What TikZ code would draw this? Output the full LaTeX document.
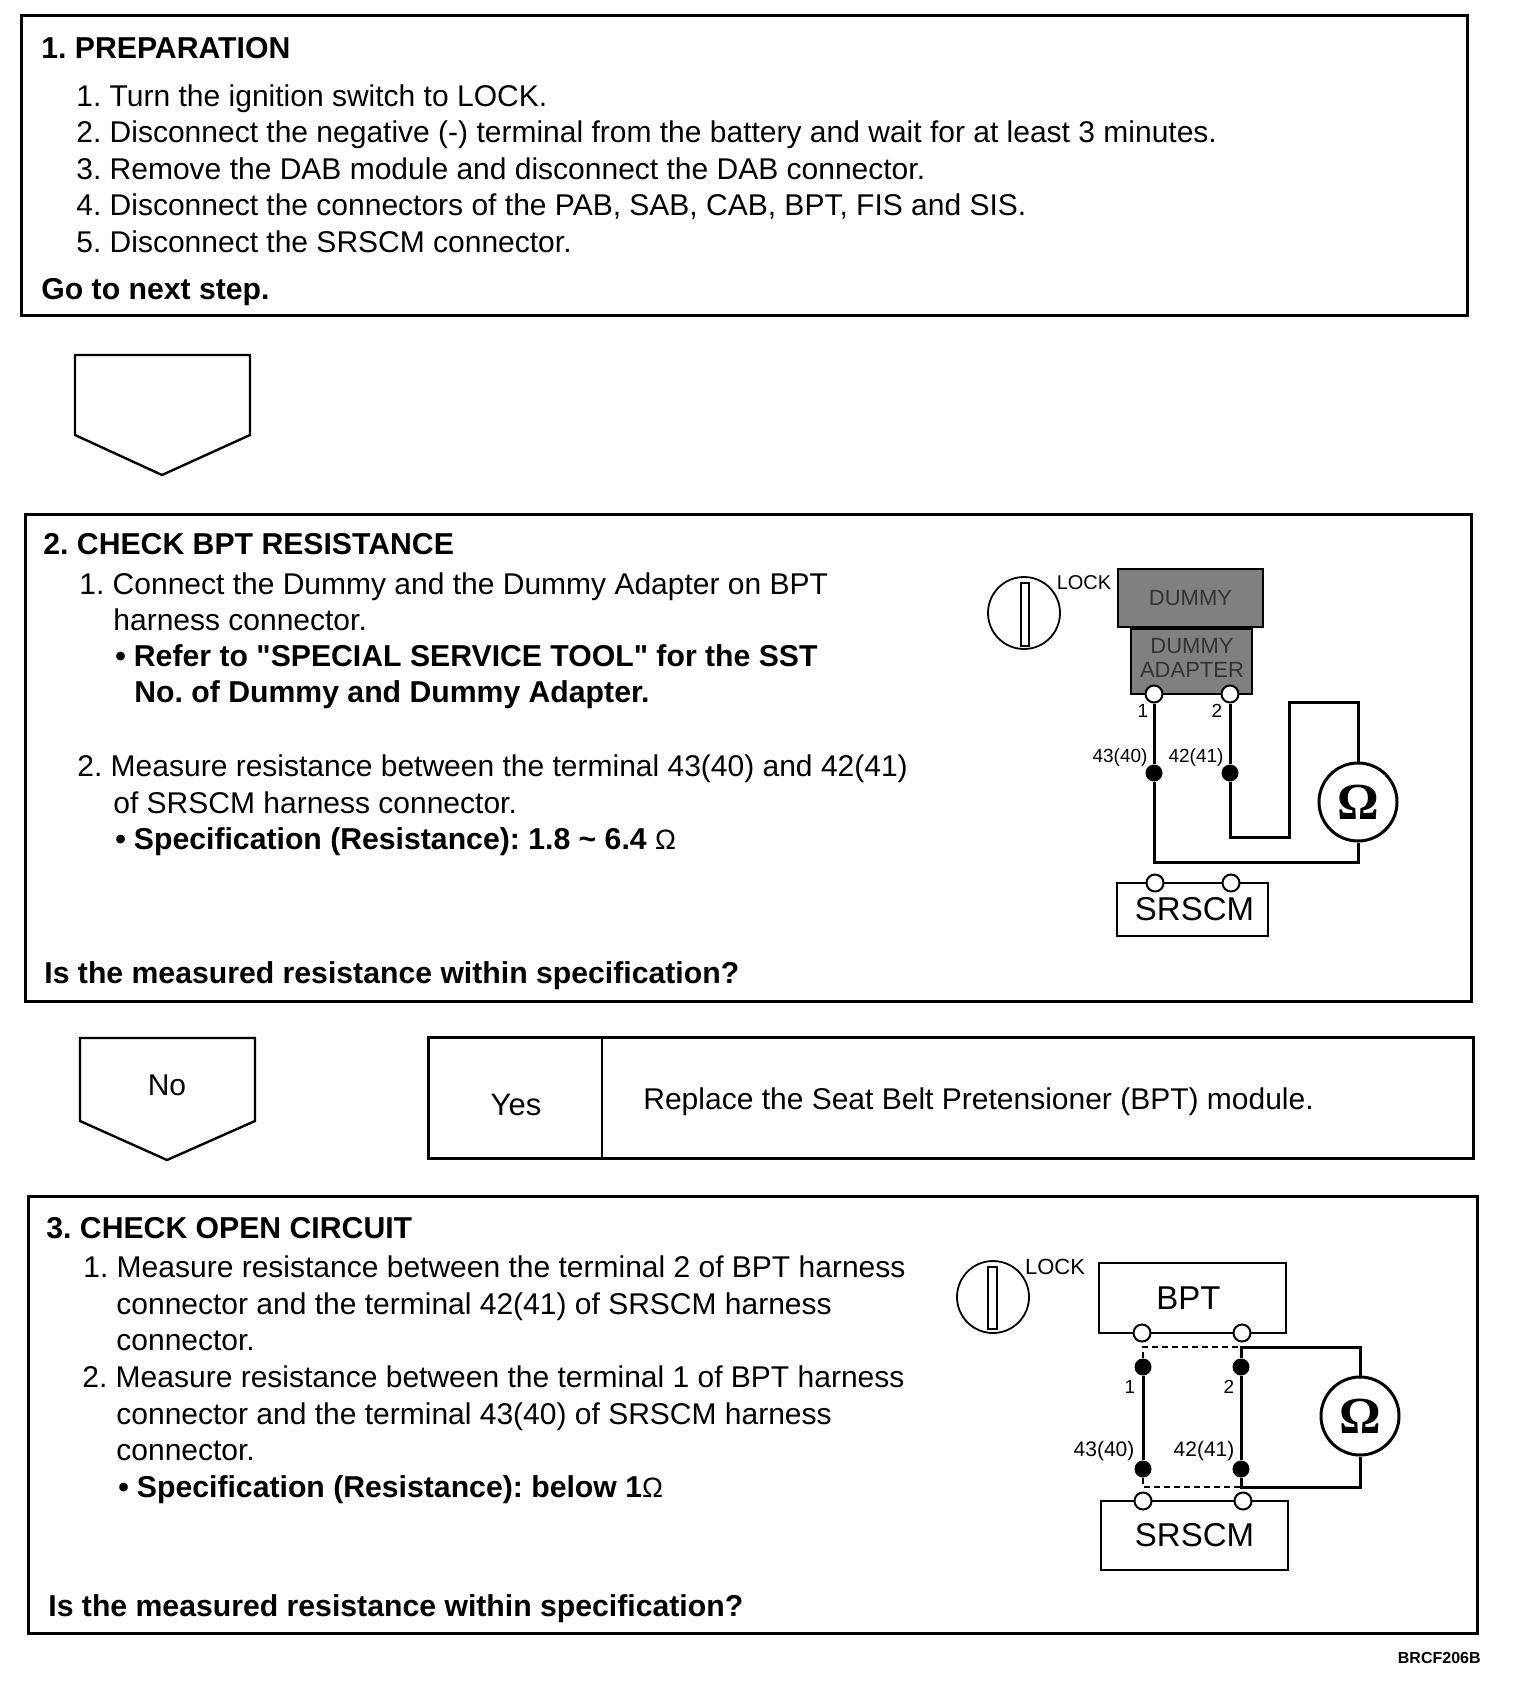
\documentclass[tikz,border=0pt]{standalone}
\usepackage{fontspec}
\setmainfont{Liberation Sans}[Ligatures=TeXOff]
\newfontfamily\meterfont{Liberation Serif}
\tikzset{
 txt/.style={anchor=base west,inner sep=0pt,yshift=-0.5pt,font=\fontsize{15}{15}\selectfont\frenchspacing},
 head/.style={txt,font=\fontsize{15.1}{15.1}\selectfont\frenchspacing\bfseries},
 panel/.style={draw,line width=1.5pt},
 term/.style={draw,circle,fill=white,inner sep=0pt,minimum size=8.5pt,line width=1pt},
 dotblk/.style={circle,fill=black,inner sep=0pt,minimum size=8.5pt},
 meter/.style={draw,circle,inner sep=0pt,minimum size=39pt,line width=1.5pt,font=\fontsize{26}{26}\selectfont\meterfont\bfseries},
 wire/.style={line width=1.5pt},
 tag/.style={inner sep=0pt,font=\fontsize{9.5}{9.5}\selectfont},
 unit/.style={draw,line width=1pt,inner sep=0pt,font=\fontsize{16.5}{16.5}\selectfont},
 graybox/.style={draw,line width=1.2pt,fill=black!50,inner sep=0pt,text=black!80,font=\fontsize{11}{12}\selectfont}
}
\begin{document}
\begin{tikzpicture}[x=0.5pt,y=-0.5pt]
 \useasboundingbox (0,0) rectangle (1520,1686);
 \node[panel,inner sep=0pt,minimum width=723pt,minimum height=149.5pt] (prep) at (744,165.5) {};
 \node[head] (prep0) at (41,58) {1. PREPARATION};
 \node[txt] (prep1) at (76,105) {1. Turn the ignition switch to LOCK.};
 \node[txt] (prep2) at (76,141) {2. Disconnect the negative (-) terminal from the battery and wait for at least 3 minutes.};
 \node[txt] (prep3) at (76,178) {3. Remove the DAB module and disconnect the DAB connector.};
 \node[txt] (prep4) at (76,214) {4. Disconnect the connectors of the PAB, SAB, CAB, BPT, FIS and SIS.};
 \node[txt] (prep5) at (76,251) {5. Disconnect the SRSCM connector.};
 \node[head] (prep6) at (41,298) {Go to next step.};
 \draw[line width=1.2pt] (75,355) -- (250,355) -- (250,435) -- (162,475) -- (75,435) -- cycle;

 \node[panel,inner sep=0pt,minimum width=723pt,minimum height=243.5pt] (bpt) at (748,757.5) {};
 \node[head] (bpt0) at (43,553) {2. CHECK BPT RESISTANCE};
 \node[txt] (bpt1) at (79,593) {1. Connect the Dummy and the Dummy Adapter on BPT};
 \node[txt] (bpt2) at (113,629) {harness connector.};
 \node[head] (bpt3) at (115,665) {\textbullet\hspace{4pt}Refer to "SPECIAL SERVICE TOOL" for the SST};
 \node[head] (bpt4) at (134,701) {No. of Dummy and Dummy Adapter.};
 \node[txt] (bpt5) at (77,775) {2. Measure resistance between the terminal 43(40) and 42(41)};
 \node[txt] (bpt6) at (113,812) {of SRSCM harness connector.};
 \node[head] (bpt7) at (115,848) {\textbullet\hspace{4pt}Specification (Resistance): 1.8 \textasciitilde{} 6.4 {\mdseries\fontsize{14}{14}\selectfont Ω}};
 \node[head] (bpt8) at (44,982) {Is the measured resistance within specification?};

 \draw[line width=1.2pt] (80,1038) -- (255,1038) -- (255,1121) -- (167,1160) -- (80,1121) -- cycle;
 \node[inner sep=0pt,font=\fontsize{15}{15}\selectfont] (no) at (167,1085) {No};
 \node[panel,inner sep=0pt,minimum width=522.5pt,minimum height=60.5pt] (yes) at (950.5,1097.5) {};
 \draw[line width=1.2pt] (yes.north west -| 602,0) -- (yes.south west -| 602,0);
 \node[inner sep=0pt,font=\fontsize{15.5}{15.5}\selectfont] (yest) at (516,1105) {Yes};
 \node[txt] (repl) at (643,1108) {Replace the Seat Belt Pretensioner (BPT) module.};

 \node[panel,inner sep=0pt,minimum width=724.5pt,minimum height=218.5pt] (open) at (752.5,1414.5) {};
 \node[head] (open0) at (46,1237) {3. CHECK OPEN CIRCUIT};
 \node[txt] (open1) at (83,1276) {1. Measure resistance between the terminal 2 of BPT harness};
 \node[txt] (open2) at (116,1313) {connector and the terminal 42(41) of SRSCM harness};
 \node[txt] (open3) at (116,1349) {connector.};
 \node[txt] (open4) at (82,1386) {2. Measure resistance between the terminal 1 of BPT harness};
 \node[txt] (open5) at (116,1423) {connector and the terminal 43(40) of SRSCM harness};
 \node[txt] (open6) at (116,1459) {connector.};
 \node[head] (open7) at (118,1496) {\textbullet\hspace{4pt}Specification (Resistance): below 1{\mdseries\fontsize{14}{14}\selectfont Ω}};
 \node[head] (open8) at (48,1615) {Is the measured resistance within specification?};

 \draw[line width=0.9pt] (1024,613) circle (18pt);
 \draw[line width=0.8pt] (1021,583) rectangle (1029,646);
 \node[tag,font=\fontsize{10}{10}\selectfont] (locka) at (1084,583) {LOCK};
 \node[graybox,minimum width=72.5pt,minimum height=29pt] (dummy) at (1190.5,598) {DUMMY};
 \node[graybox,minimum width=60.5pt,minimum height=32.5pt] (adapter) at (1191.5,661.5) {};
 \node[graybox,draw=none,fill=none,align=center] (adaptert) at (1192,658) {DUMMY\\ADAPTER};
 \node[unit,minimum width=75.5pt,minimum height=26.5pt] (srsa) at (1192.5,909.5) {\hspace{2pt}SRSCM};
 \node[term] (ta1) at (1154,694) {};
 \node[term] (ta2) at (1230,694) {};
 \node[dotblk] (da1) at (1154,773) {};
 \node[dotblk] (da2) at (1230,773) {};
 \node[term] (sa1) at (1155,883) {};
 \node[term] (sa2) at (1231,883) {};
 \node[meter] (ma) at (1358,802) {Ω};
 \coordinate (ca) at (1289,837);
 \coordinate (cb) at (1289,702);
 \coordinate (cc) at (1154,862);
 \draw[wire] (ta1) -- (da1);
 \draw[wire] (ta2) -- (da2);
 \draw[wire] (da1) -- (cc) -| (ma);
 \draw[wire] (da2) |- (ca) -- (cb) -| (ma);
 \node[tag] (na1) at (1143,711) {1};
 \node[tag] (na2) at (1217,711) {2};
 \node[tag] (ra1) at (1120,758) {43(40)};
 \node[tag] (ra2) at (1196,758) {42(41)};

 \draw[line width=0.9pt] (993,1297) circle (18pt);
 \draw[line width=0.8pt] (988,1267) rectangle (997,1329);
 \node[tag,font=\fontsize{11}{11}\selectfont] (lockb) at (1055,1267) {LOCK};
 \node[unit,minimum width=93.5pt,minimum height=35pt] (bptb) at (1192.5,1298) {BPT\kern4pt};
 \node[unit,minimum width=93.5pt,minimum height=34.5pt] (srsb) at (1194.5,1535.5) {SRSCM};
 \node[term] (tb1) at (1142,1333) {};
 \node[term] (tb2) at (1242,1333) {};
 \node[term] (sb1) at (1143,1501) {};
 \node[term] (sb2) at (1243,1501) {};
 \node[dotblk] (db1) at (1143,1367) {};
 \node[dotblk] (db2) at (1241,1367) {};
 \node[dotblk] (db3) at (1143,1469) {};
 \node[dotblk] (db4) at (1241,1469) {};
 \node[meter] (mb) at (1360,1416) {Ω};
 \coordinate (ct1) at (1143,1347);
 \coordinate (ct2) at (1241,1347);
 \coordinate (cb1) at (1143,1487);
 \coordinate (cb2) at (1241,1487);
 \draw[wire] (db1) -- (db3);
 \draw[wire] (db2) -- (db4);
 \draw[wire] (db2) -- (ct2) -| (mb);
 \draw[wire] (db4) -- (cb2) -| (mb);
 \draw[line width=0.8pt,densely dashed] (db1) -- (ct1) -- (ct2);
 \draw[line width=0.8pt,densely dashed] (db3) -- (cb1) -- (cb2);
 \node[tag] (nb1) at (1130,1387) {1};
 \node[tag] (nb2) at (1229,1387) {2};
 \node[tag,font=\fontsize{10.5}{10.5}\selectfont] (rb1) at (1104,1451) {43(40)};
 \node[tag,font=\fontsize{10.5}{10.5}\selectfont] (rb2) at (1204,1451) {42(41)};

 \node[anchor=east,inner sep=0pt,font=\fontsize{8}{8}\selectfont\bfseries] (code) at (1481,1658) {BRCF206B};
\end{tikzpicture}
\end{document}
